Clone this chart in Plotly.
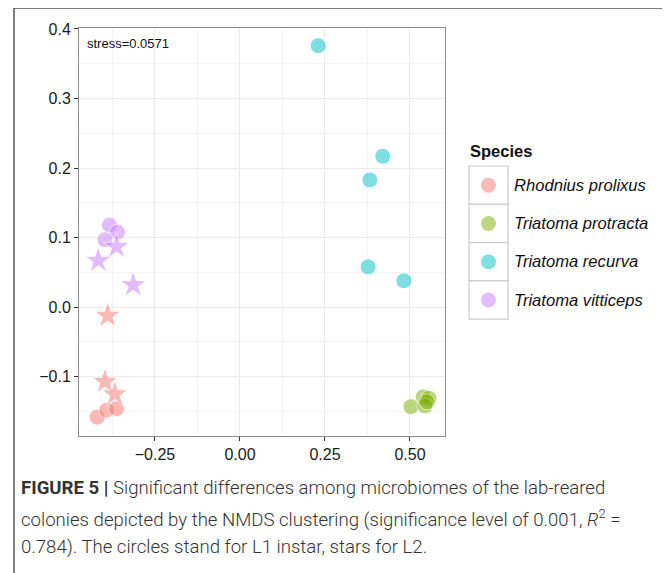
import plotly.graph_objects as go

species = ["Rhodnius prolixus", "Triatoma protracta", "Triatoma recurva", "Triatoma vitticeps"]
colors = ["#F8766D", "#7CAE00", "#00BFC4", "#C77CFF"]

# NMDS coordinates (NMDS1, NMDS2) per species, circles = L1, stars = L2
rp_l1_x = [-0.420, -0.392, -0.363]
rp_l1_y = [-0.158, -0.148, -0.146]
rp_l2_x = [-0.389, -0.397, -0.368]
rp_l2_y = [-0.012, -0.107, -0.125]

tp_l1_x = [0.503, 0.539, 0.556, 0.544, 0.550]
tp_l1_y = [-0.143, -0.129, -0.131, -0.142, -0.136]

tr_l1_x = [0.230, 0.420, 0.382, 0.377, 0.482]
tr_l1_y = [0.376, 0.217, 0.183, 0.058, 0.038]

tv_l1_x = [-0.384, -0.360, -0.397]
tv_l1_y = [0.118, 0.108, 0.097]
tv_l2_x = [-0.363, -0.417, -0.314]
tv_l2_y = [0.087, 0.067, 0.032]

stress_text = "stress=0.0571"
x_ticks = [-0.25, 0.0, 0.25, 0.5]
x_tick_labels = ["\u22120.25", "0.00", "0.25", "0.50"]
y_ticks = [-0.1, 0.0, 0.1, 0.2, 0.3, 0.4]
y_tick_labels = ["\u22120.1", "0.0", "0.1", "0.2", "0.3", "0.4"]

# page body has an 8px margin: work in screen coordinates, convert to figure coords
OFF = 8
W, H = 670 - OFF, 573 - OFF
L, R, T, B = 79 - OFF, 445 - OFF, 28 - OFF, 436 - OFF
pw, ph = R - L, B - T
SANS = "Liberation Sans"


def px(x):
    return (x - OFF - L) / pw


def py(y):
    return (B - (y - OFF)) / ph


fig = go.Figure()

groups = [
    (rp_l1_x, rp_l1_y, 0, "circle"),
    (rp_l2_x, rp_l2_y, 0, "star"),
    (tp_l1_x, tp_l1_y, 1, "circle"),
    (tr_l1_x, tr_l1_y, 2, "circle"),
    (tv_l1_x, tv_l1_y, 3, "circle"),
    (tv_l2_x, tv_l2_y, 3, "star"),
]
for xs, ys, ci, sym in groups:
    fig.add_trace(go.Scatter(
        x=xs, y=ys, mode="markers", name=species[ci], showlegend=False,
        marker=dict(symbol=sym, size=16 if sym == "circle" else 20,
                    color=colors[ci], opacity=0.5,
                    line=dict(color="white", width=1)),
    ))

shapes = []
# outer frame
shapes.append(dict(type="rect", xref="paper", yref="paper",
                   x0=px(14), x1=px(666), y0=py(600), y1=py(8),
                   line=dict(color="#555555", width=1.5), layer="below"))

annotations = []
annotations.append(dict(text=stress_text, xref="paper", yref="paper",
                        x=px(85), y=py(44), xanchor="left", yanchor="middle",
                        showarrow=False, font=dict(size=13, color="#111111", family=SANS)))

# legend (manual)
annotations.append(dict(text="<b>Species</b>", xref="paper", yref="paper",
                        x=px(468), y=py(151), xanchor="left", yanchor="middle",
                        showarrow=False, font=dict(size=16.5, color="#111111", family=SANS)))
row_top = 166
row_h = 38.3
for i, sp in enumerate(species):
    y0 = row_top + i * row_h
    y1 = y0 + row_h
    shapes.append(dict(type="rect", xref="paper", yref="paper",
                       x0=px(469), x1=px(508), y0=py(y1), y1=py(y0),
                       line=dict(color="#cccccc", width=1.2), fillcolor="white"))
    cy = (y0 + y1) / 2
    shapes.append(dict(type="circle", xref="paper", yref="paper",
                       xsizemode="pixel", ysizemode="pixel",
                       xanchor=px(488.5), yanchor=py(cy),
                       x0=-7.5, x1=7.5, y0=-7.5, y1=7.5,
                       fillcolor=colors[i], opacity=0.5, line=dict(width=0)))
    annotations.append(dict(text="<i>" + sp + "</i>", xref="paper", yref="paper",
                            x=px(512), y=py(cy), xanchor="left", yanchor="middle",
                            showarrow=False, font=dict(size=16.6, color="#111111", family=SANS)))

cap_font = dict(size=18.6, color="#333333", family="Roboto", weight=300)
cap_lines = [
    "<b style='font-weight:700'>FIGURE 5 |</b> Significant differences among microbiomes of the lab-reared",
    "colonies depicted by the NMDS clustering (significance level of 0.001, <i>R</i><sup>2</sup> =",
    "0.784). The circles stand for L1 instar, stars for L2.",
]
cap_y = [488, 518, 547]
for t, yy in zip(cap_lines, cap_y):
    annotations.append(dict(text=t, xref="paper", yref="paper",
                            x=px(19), y=py(yy), xanchor="left", yanchor="middle",
                            showarrow=False, font=cap_font))

axis_common = dict(
    showgrid=True, gridcolor="#ebebeb", gridwidth=1,
    zeroline=False, showline=True, mirror=True, linecolor="#8c8c8c", linewidth=1,
    ticks="outside", ticklen=4, tickcolor="#333333", tickwidth=1,
    tickfont=dict(size=16, color="#1a1a1a", family=SANS),
)

fig.update_layout(
    width=W, height=H,
    margin=dict(l=L, r=W - R, t=T, b=H - B),
    paper_bgcolor="white", plot_bgcolor="white",
    showlegend=False,
    xaxis=dict(range=[-0.4735, 0.603], tickvals=x_ticks, ticktext=x_tick_labels,
               minor=dict(showgrid=True, gridcolor="#f4f4f4", tick0=0.125, dtick=0.25, ticks=""),
               **axis_common),
    yaxis=dict(range=[-0.1852, 0.4014], tickvals=y_ticks, ticktext=y_tick_labels,
               minor=dict(showgrid=True, gridcolor="#f4f4f4", tick0=0.05, dtick=0.1, ticks=""),
               **axis_common),
    shapes=shapes,
    annotations=annotations,
)

fig.write_html("out.html")
